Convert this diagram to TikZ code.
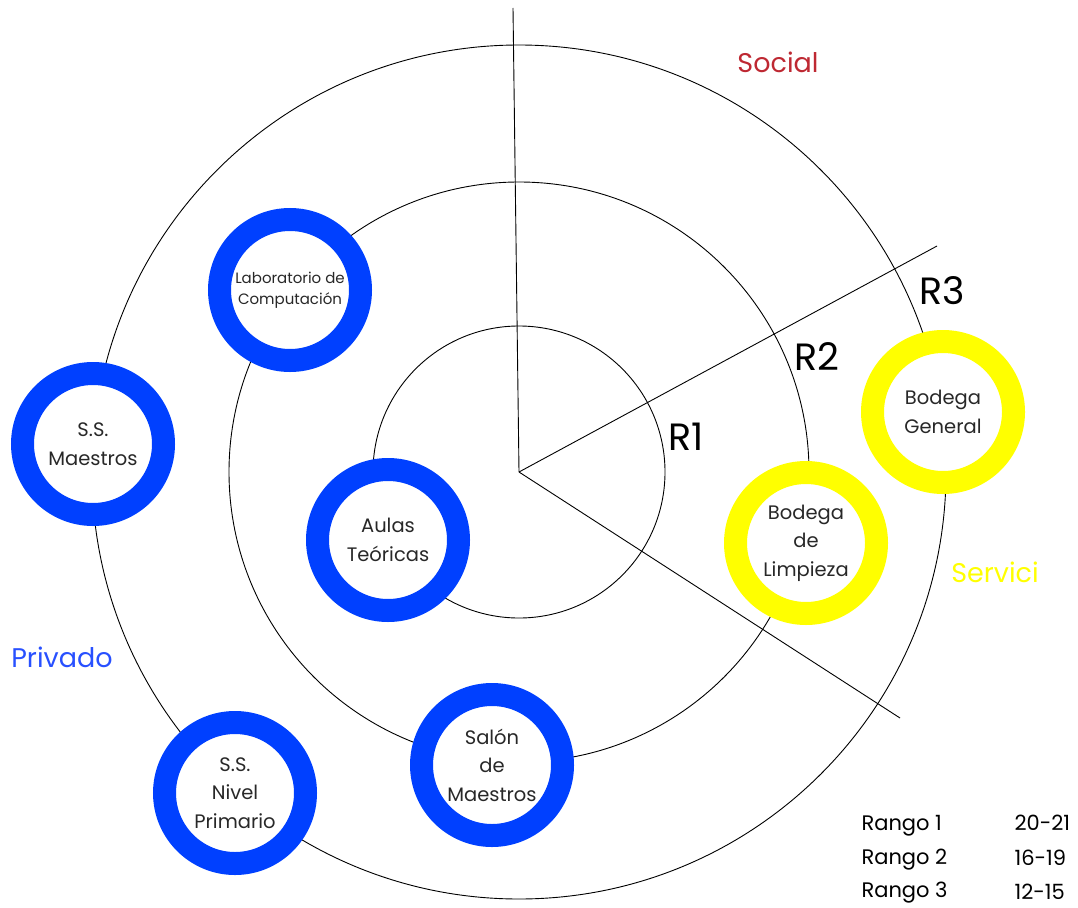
\documentclass[tikz,border=0pt]{standalone}
\usepackage{fontspec}
\setmainfont{Poppins}
\definecolor{ringblue}{RGB}{0,64,255}
\definecolor{ringyellow}{RGB}{255,255,0}
\definecolor{socialred}{RGB}{190,40,50}
\definecolor{privblue}{RGB}{40,80,255}
\definecolor{textgray}{RGB}{40,40,40}
\begin{document}
\begin{tikzpicture}[x=1pt,y=-1pt,
  ring/.style={circle,draw=ringblue,line width=23pt,fill=white,minimum size=141pt,inner sep=0pt,align=center,font=\fontsize{19.5}{28.5}\selectfont,text=textgray},
  yring/.style={ring,draw=ringyellow},
  guide/.style={line width=0.9pt,black},
  rlabel/.style={font=\fontsize{38}{40}\selectfont,text=black},
  zone/.style={font=\fontsize{27}{30}\selectfont},
  legend/.style={font=\fontsize{21}{24}\selectfont,anchor=west,text=black}]
\useasboundingbox (0,0) rectangle (1078,907);
\coordinate (c) at (519,472);
\coordinate (top) at (513,8);
\coordinate (ne) at (937,246);
\coordinate (se) at (900,718);
\draw[guide] (c) circle[radius=146];
\draw[guide] (c) circle[radius=290];
\draw[guide] (c) circle[radius=427];
\draw[guide] (c) -- (top);
\draw[guide] (c) -- (ne);
\draw[guide] (c) -- (se);

\node[ring,font=\fontsize{15}{21}\selectfont] (lab) at (290,290) {Laboratorio de\\Computación};
\node[ring] (ssm) at (93,444) {S.S.\\Maestros};
\node[ring] (aulas) at (388,540) {Aulas\\Teóricas};
\node[ring] (salon) at (492,765) {Salón\\de\\Maestros};
\node[ring] (ssn) at (235,793) {S.S.\\Nivel\\Primario};
\node[yring] (bg) at (943,412) {Bodega\\General};
\node[yring] (bl) at (806,543) {Bodega\\de\\Limpieza};

\node[rlabel] (r1) at (686,437) {R1};
\node[rlabel] (r2) at (817,357) {R2};
\node[rlabel] (r3) at (942,291) {R3};

\node[zone,text=socialred] (social) at (778,62) {Social};
\node[zone,text=privblue] (priv) at (62,657) {Privado};
\node[zone,text=ringyellow] (serv) at (995,572) {Servici};

\node[legend] (l1) at (858,826) {Rango 1};
\node[legend] (l2) at (858,860) {Rango 2};
\node[legend] (l3) at (858,893) {Rango 3};
\node[legend] (v1) at (1011,823) {20-21};
\node[legend] (v2) at (1011,858) {16-19};
\node[legend] (v3) at (1011,892) {12-15};
\end{tikzpicture}
\end{document}
